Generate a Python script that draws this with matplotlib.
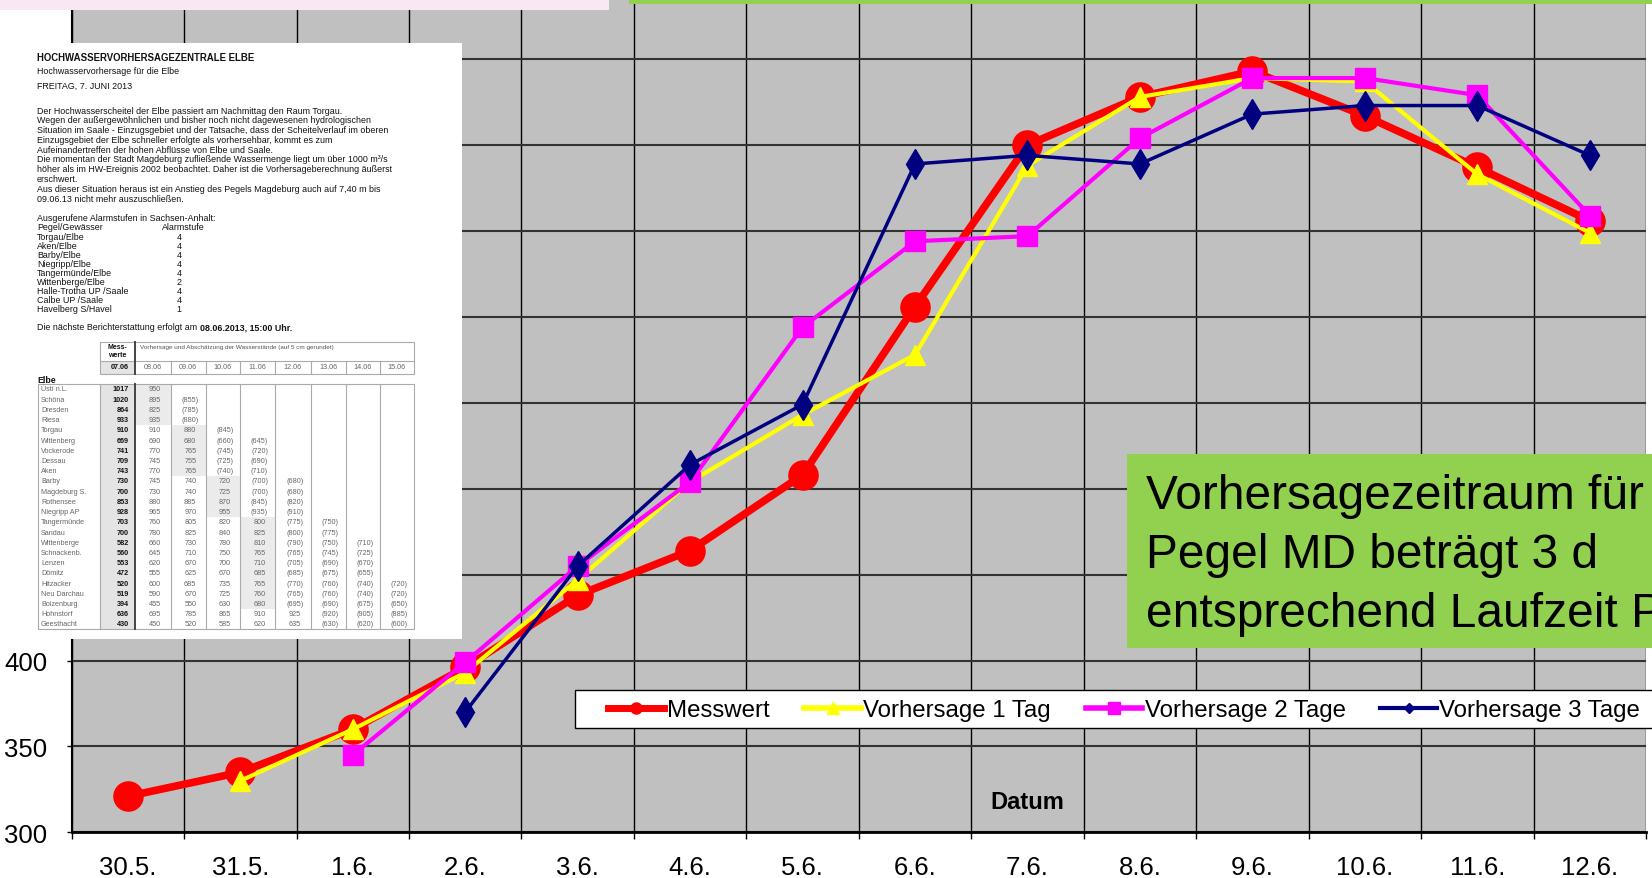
import numpy as np
import matplotlib.pyplot as plt
from matplotlib.patches import Rectangle
from matplotlib.lines import Line2D

W, H = 1652, 879
ARIAL = ['Liberation Sans', 'DejaVu Sans']
plt.rcParams['font.family'] = ARIAL

# chart data
nan = np.nan
days = ['30.5.', '31.5.', '1.6.', '2.6.', '3.6.', '4.6.', '5.6.', '6.6.', '7.6.',
        '8.6.', '9.6.', '10.6.', '11.6.', '12.6.']
messwert = [321, 335, 360, 396, 438, 464, 508, 606, 700, 728, 743, 717, 687, 656]
vorh_1 = [nan, 330, 360, 393, 447, 504, 543, 578, 688, 728, 739, 737, 683, 649]
vorh_2 = [nan, nan, 345, 399, 455, 504, 594, 644, 647, 704, 739, 739, 729, 659]
vorh_3 = [nan, nan, nan, 370, 455, 514, 549, 689, 694, 689, 718, 723, 723, 694]
series_names = ['Messwert', 'Vorhersage 1 Tag', 'Vorhersage 2 Tage', 'Vorhersage 3 Tage']

# text of the pasted forecast document
doc_title = 'HOCHWASSERVORHERSAGEZENTRALE ELBE'
doc_sub = 'Hochwasservorhersage für die Elbe'
doc_date = 'FREITAG, 7. JUNI 2013'
doc_para = [
    'Der Hochwasserscheitel der Elbe passiert am Nachmittag den Raum Torgau.',
    'Wegen der außergewöhnlichen und bisher noch nicht dagewesenen hydrologischen',
    'Situation im Saale - Einzugsgebiet und der Tatsache, dass der Scheitelverlauf im oberen',
    'Einzugsgebiet der Elbe schneller erfolgte als vorhersehbar, kommt es zum',
    'Aufeinandertreffen der hohen Abflüsse von Elbe und Saale.',
    'Die momentan der Stadt Magdeburg zufließende Wassermenge liegt um über 1000 m³/s',
    'höher als im HW-Ereignis 2002 beobachtet. Daher ist die Vorhersageberechnung äußerst',
    'erschwert.',
    'Aus dieser Situation heraus ist ein Anstieg des Pegels Magdeburg auch auf 7,40 m bis',
    '09.06.13 nicht mehr auszuschließen.',
]
alarm_pegel = ['Torgau/Elbe', 'Aken/Elbe', 'Barby/Elbe', 'Niegripp/Elbe', 'Tangermünde/Elbe',
               'Wittenberge/Elbe', 'Halle-Trotha UP /Saale', 'Calbe UP /Saale', 'Havelberg S/Havel']
alarm_stufe = ['4', '4', '4', '4', '4', '2', '4', '4', '1']
stations = ['Ústí n.L.', 'Schöna', 'Dresden', 'Riesa', 'Torgau', 'Wittenberg', 'Vockerode',
            'Dessau', 'Aken', 'Barby', 'Magdeburg S.', 'Rothensee', 'Niegripp AP', 'Tangermünde',
            'Sandau', 'Wittenberge', 'Schnackenb.', 'Lenzen', 'Dömitz', 'Hitzacker',
            'Neu Darchau', 'Boizenburg', 'Hohnstorf', 'Geesthacht']
mess_0706 = ['1017', '1020', '864', '933', '910', '669', '741', '709', '743', '730', '700',
             '853', '928', '703', '700', '582', '560', '553', '472', '520', '519', '394',
             '636', '430']
fc_dates = ['08.06', '09.06', '10.06', '11.06', '12.06', '13.06', '14.06', '15.06']
forecast = [
    ['950'], ['895', '(855)'], ['825', '(785)'], ['935', '(880)'],
    ['910', '880', '(845)'], ['690', '680', '(660)', '(645)'], ['770', '765', '(745)', '(720)'],
    ['745', '755', '(725)', '(690)'], ['770', '765', '(740)', '(710)'],
    ['745', '740', '720', '(700)', '(680)'], ['730', '740', '725', '(700)', '(680)'],
    ['880', '885', '870', '(845)', '(820)'], ['965', '970', '955', '(935)', '(910)'],
    ['760', '805', '820', '800', '(775)', '(750)'], ['780', '825', '840', '825', '(800)', '(775)'],
    ['660', '730', '780', '810', '(790)', '(750)', '(710)'],
    ['645', '710', '750', '765', '(765)', '(745)', '(725)'],
    ['620', '670', '700', '710', '(705)', '(690)', '(670)'],
    ['555', '625', '670', '685', '(685)', '(675)', '(655)'],
    ['600', '685', '735', '765', '(770)', '(760)', '(740)', '(720)'],
    ['590', '670', '725', '760', '(765)', '(760)', '(740)', '(720)'],
    ['455', '550', '630', '680', '(695)', '(690)', '(675)', '(650)'],
    ['695', '785', '865', '910', '925', '(920)', '(905)', '(885)'],
    ['450', '520', '585', '620', '635', '(630)', '(620)', '(600)'],
]


def fx(px):
    return px / W


def fy(py):
    return 1 - py / H


fig = plt.figure(figsize=(W / 100, H / 100), dpi=100)

# main chart
ax = fig.add_axes([fx(71.6), fy(833.4), (1646 - 71.6) / W, 833.4 / H])
ax.set_facecolor('#C0C0C0')
x = np.arange(len(days))
ax.plot(x, messwert, color='#FF0000', lw=5.5, marker='o', ms=21, zorder=3)
ax.plot(x, vorh_1, color='#FFFF00', lw=3, marker='^', ms=15, zorder=4)
ax.plot(x, vorh_2, color='#FF00FF', lw=3, marker='s', ms=14, zorder=5)
ax.plot(x, vorh_3, color='#000080', lw=2.5, marker='d', ms=15, zorder=6)

ax.set_xlim(-0.5, 13.5)
ax.set_ylim(300, 785)
ax.set_xticks(x)
ax.set_xticklabels(days)
ax.set_xticks(np.arange(-0.5, 14), minor=True)
ax.set_yticks(np.arange(300, 800, 50))
ax.tick_params(axis='x', which='major', length=0, pad=16.5, labelsize=18.5)
ax.tick_params(axis='x', which='minor', length=5, width=1)
ax.tick_params(axis='y', length=3.6, width=1, pad=13.7, labelsize=18.5)
ax.grid(axis='x', which='minor', color='black', lw=1)
ax.grid(axis='y', which='major', color='#333333', lw=1.5)
ax.set_axisbelow(True)
ax.spines['top'].set_visible(False)
ax.spines['right'].set_visible(False)
ax.spines['bottom'].set_linewidth(2)
ax.spines['left'].set_linewidth(1.5)

fig.text(fx(1027), fy(803), 'Datum', fontsize=17, fontweight='bold', ha='center', va='center')

# legend with its own frame
handles = [
    Line2D([], [], color='#FF0000', lw=5, marker='o', ms=8),
    Line2D([], [], color='#FFFF00', lw=4, marker='^', ms=8),
    Line2D([], [], color='#FF00FF', lw=4, marker='s', ms=8),
    Line2D([], [], color='#000080', lw=3, marker='D', ms=5),
]
fig.add_artist(Rectangle((fx(575), fy(729)), 1, (729 - 691) / H, transform=fig.transFigure,
                         facecolor='white', edgecolor='black', lw=1))
fig.legend(handles, series_names, loc='center left', bbox_to_anchor=(fx(608), fy(711)),
           ncol=4, frameon=False, fontsize=17.3, handlelength=2.35, handletextpad=0.1,
           columnspacing=1.45, borderpad=0, borderaxespad=0)

# green note box
fig.add_artist(Rectangle((fx(1127), fy(649)), 1, (649 - 455) / H, transform=fig.transFigure,
                         facecolor='#92D050', edgecolor='none'))
note = ['Vorhersagezeitraum für', 'Pegel MD beträgt 3 d', 'entsprechend Laufzeit Pegel']
for i, line in enumerate(note):
    fig.text(fx(1146), fy(509 + i * 59), line, fontsize=34.5, va='baseline')

# slide strips at the top
fig.add_artist(Rectangle((0, fy(11)), fx(609), 11 / H, transform=fig.transFigure,
                         facecolor='#F8E8F6', edgecolor='none'))
fig.add_artist(Rectangle((fx(629), fy(5)), 1, 5 / H, transform=fig.transFigure,
                         facecolor='#92D050', edgecolor='none'))

# pasted document, drawn in pixel coordinates of the figure
dax = fig.add_axes([0, fy(640), 461.5 / W, (640 - 44) / H])
dax.set_xlim(0, 461.5)
dax.set_ylim(640, 44)
dax.set_xticks([])
dax.set_yticks([])
for s in dax.spines.values():
    s.set_visible(False)
dax.set_facecolor('white')


def t(xp, yp, s, size=6.4, weight='normal', ha='left', color='#111111'):
    return dax.text(xp, yp, s, fontsize=size, fontweight=weight, ha=ha, va='center',
                    color=color)


t(37, 58, doc_title, size=6.9, weight='bold')
t(37, 72, doc_sub)
t(37, 86, doc_date)
for i, line in enumerate(doc_para):
    t(37, 111 + i * 9.8, line)
t(37, 219, 'Ausgerufene Alarmstufen in Sachsen-Anhalt:')
t(37, 228, 'Pegel/Gewässer')
t(162, 228, 'Alarmstufe')
for i, (p, s) in enumerate(zip(alarm_pegel, alarm_stufe)):
    t(37, 238 + i * 9.0, p)
    t(179, 238 + i * 9.0, s, ha='center')
first = t(37, 328, 'Die nächste Berichterstattung erfolgt am ')
renderer = fig.canvas.get_renderer()
bb = first.get_window_extent(renderer).transformed(dax.transData.inverted())
t(bb.x1, 328, '08.06.2013, 15:00 Uhr.', weight='bold')

# table
bounds = [135, 171, 205.5, 240, 275, 311, 346, 380, 414]
centers = [(a + b) / 2 for a, b in zip(bounds[:-1], bounds[1:])]
rh = (625 - 390) / 23
row_y = [390 + i * rh for i in range(len(stations))]
gray = '#AAAAAA'
shade = '#E4E4E4'
dax.add_patch(Rectangle((100, 385), 35, 245, facecolor=shade, edgecolor='none'))
dax.add_patch(Rectangle((100, 362), 35, 13, facecolor=shade, edgecolor='none'))
shaded = {0: range(0, 4), 1: range(4, 9), 2: range(9, 13), 3: range(13, 22)}
for col, rows in shaded.items():
    for r in rows:
        dax.add_patch(Rectangle((bounds[col], row_y[r] - rh / 2), bounds[col + 1] - bounds[col], rh,
                                facecolor='#EBEBEB', edgecolor='none'))
# header box
dax.add_patch(Rectangle((100, 343), 314, 32, facecolor='none', edgecolor=gray, lw=0.8))
dax.plot([100, 414], [362, 362], color=gray, lw=0.8)
for b in bounds[1:-1]:
    dax.plot([b, b], [362, 375], color=gray, lw=0.8)
dax.plot([135, 135], [343, 375], color='#444444', lw=1.4)
t(117, 348, 'Mess-', size=5, weight='bold', ha='center')
t(117, 356, 'werte', size=5, weight='bold', ha='center')
t(140, 348, 'Vorhersage und Abschätzung der Wasserstände (auf 5 cm gerundet)', size=4.6,
  color='#555555')
t(129, 368, '07.06', size=5.2, weight='bold', ha='right')
for cx, d in zip(centers, fc_dates):
    t(cx, 368, d, size=5.2, ha='center', color='#666666')
t(37, 381, 'Elbe', size=6.3, weight='bold')
# data box
dax.add_patch(Rectangle((38, 385), 376, 245, facecolor='none', edgecolor=gray, lw=0.8))
dax.plot([100, 100], [385, 630], color=gray, lw=0.8)
for b in bounds[1:-1]:
    dax.plot([b, b], [385, 630], color=gray, lw=0.8)
dax.plot([135, 135], [385, 630], color='#444444', lw=1.4)
for i, name in enumerate(stations):
    y = row_y[i]
    t(41, y, name, size=5.2, color='#666666')
    t(129, y, mess_0706[i], size=5.2, weight='bold', ha='right')
    for j, v in enumerate(forecast[i]):
        t(centers[j] + 2, y, v, size=5.2, ha='center', color='#666666')

fig.savefig('out.png', dpi=100)
